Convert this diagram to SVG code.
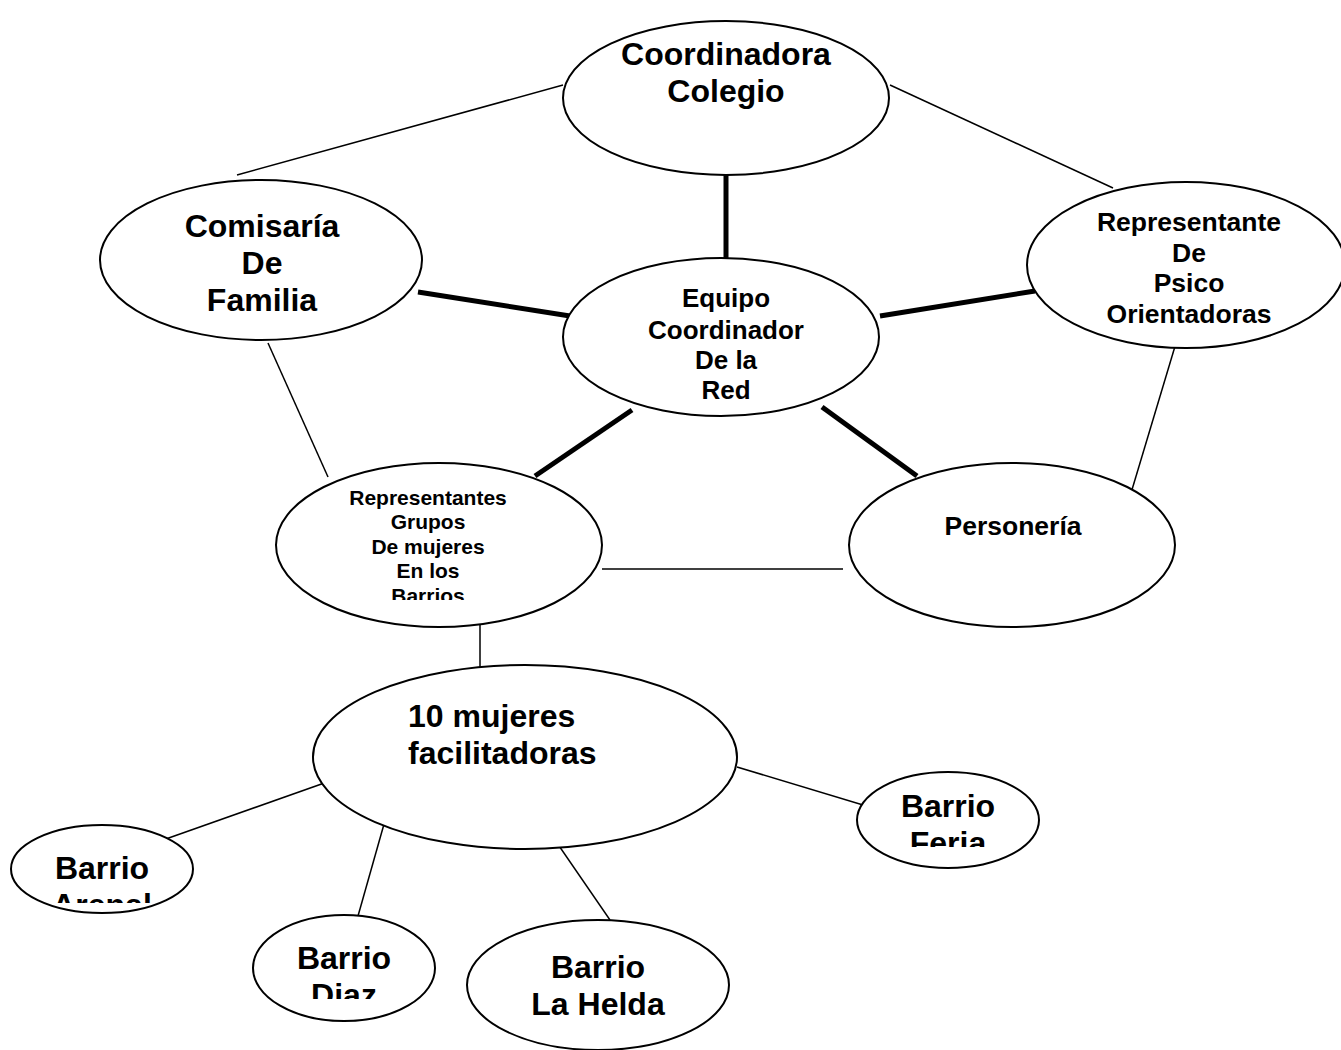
<svg xmlns="http://www.w3.org/2000/svg" width="1341" height="1050" viewBox="0 0 1341 1050">
<style>
.n{fill:#fff;stroke:#000;stroke-width:2}
.t{font-family:"Liberation Sans",Arial,sans-serif;font-weight:bold;fill:#000;text-anchor:middle}
.b{font-size:32px}
.m{font-size:26.5px}
.s{font-size:21px}
.l{stroke:#000;stroke-width:1.5;fill:none}
.k{stroke:#000;stroke-width:5;fill:none}
</style>
<defs>
<clipPath id="cGr"><rect x="270" y="460" width="340" height="140"/></clipPath>
<clipPath id="cAr"><rect x="0" y="820" width="200" height="83"/></clipPath>
<clipPath id="cFe"><rect x="850" y="765" width="200" height="82"/></clipPath>
<clipPath id="cDi"><rect x="240" y="910" width="200" height="89"/></clipPath>
</defs>
<rect width="1341" height="1050" fill="#fff"/>
<g id="connectors">
<line class="l" x1="563" y1="85" x2="237" y2="175"/>
<line class="l" x1="890" y1="85" x2="1113" y2="188"/>
<line class="k" x1="726" y1="175" x2="726" y2="258"/>
<line class="k" x1="418" y1="292" x2="570" y2="316"/>
<line class="k" x1="880" y1="316" x2="1035" y2="291"/>
<line class="k" x1="632" y1="410" x2="535" y2="476"/>
<line class="k" x1="822" y1="407" x2="917" y2="476"/>
<line class="l" x1="268" y1="343" x2="328" y2="477"/>
<line class="l" x1="1176" y1="343" x2="1131" y2="493"/>
<line class="l" x1="602" y1="569" x2="843" y2="569"/>
<line class="l" x1="480" y1="615" x2="480" y2="675"/>
<line class="l" x1="330" y1="781" x2="163" y2="840"/>
<line class="l" x1="388" y1="810" x2="358" y2="916"/>
<line class="l" x1="555" y1="840" x2="610" y2="920"/>
<line class="l" x1="737" y1="767" x2="873" y2="808"/>
</g>
<g id="coordinadora">
<ellipse class="n" cx="726" cy="98" rx="163" ry="77"/>
<text class="t b" x="726" y="65">Coordinadora</text>
<text class="t b" x="726" y="102">Colegio</text>
</g>
<g id="comisaria">
<ellipse class="n" cx="261" cy="260" rx="161" ry="80"/>
<text class="t b" x="262" y="237">Comisaría</text>
<text class="t b" x="262" y="274">De</text>
<text class="t b" x="262" y="311">Familia</text>
</g>
<g id="equipo">
<ellipse class="n" cx="721" cy="337" rx="158" ry="79"/>
<text class="t" font-size="26" x="726" y="307">Equipo</text>
<text class="t" font-size="26" x="726" y="339">Coordinador</text>
<text class="t" font-size="26" x="726" y="369">De la</text>
<text class="t" font-size="26" x="726" y="399">Red</text>
</g>
<g id="psico">
<ellipse class="n" cx="1186" cy="265" rx="159" ry="83"/>
<text class="t m" x="1189" y="231">Representante</text>
<text class="t m" x="1189" y="262">De</text>
<text class="t m" x="1189" y="292">Psico</text>
<text class="t m" x="1189" y="323">Orientadoras</text>
</g>
<g id="grupos">
<ellipse class="n" cx="439" cy="545" rx="163" ry="82"/>
<g clip-path="url(#cGr)">
<text class="t s" x="428" y="505">Representantes</text>
<text class="t s" x="428" y="529">Grupos</text>
<text class="t s" x="428" y="554">De mujeres</text>
<text class="t s" x="428" y="578">En los</text>
<text class="t s" x="428" y="603">Barrios</text>
</g>
</g>
<g id="personeria">
<ellipse class="n" cx="1012" cy="545" rx="163" ry="82"/>
<text class="t m" x="1013" y="535">Personería</text>
</g>
<g id="facilitadoras">
<ellipse class="n" cx="525" cy="757" rx="212" ry="92"/>
<text class="t b" x="408" y="727" style="text-anchor:start">10 mujeres</text>
<text class="t b" x="408" y="764" style="text-anchor:start">facilitadoras</text>
</g>
<g id="arenal">
<ellipse class="n" cx="102" cy="869" rx="91" ry="44"/>
<g clip-path="url(#cAr)">
<text class="t b" x="102" y="879">Barrio</text>
<text class="t b" x="102" y="916">Arenal</text>
</g>
</g>
<g id="feria">
<ellipse class="n" cx="948" cy="820" rx="91" ry="48"/>
<g clip-path="url(#cFe)">
<text class="t b" x="948" y="817">Barrio</text>
<text class="t b" x="948" y="854">Feria</text>
</g>
</g>
<g id="diaz">
<ellipse class="n" cx="344" cy="968" rx="91" ry="53"/>
<g clip-path="url(#cDi)">
<text class="t b" x="344" y="969">Barrio</text>
<text class="t b" x="344" y="1006">Diaz</text>
</g>
</g>
<g id="lahelda">
<ellipse class="n" cx="598" cy="985" rx="131" ry="65"/>
<text class="t b" x="598" y="978">Barrio</text>
<text class="t b" x="598" y="1015">La Helda</text>
</g>
</svg>
